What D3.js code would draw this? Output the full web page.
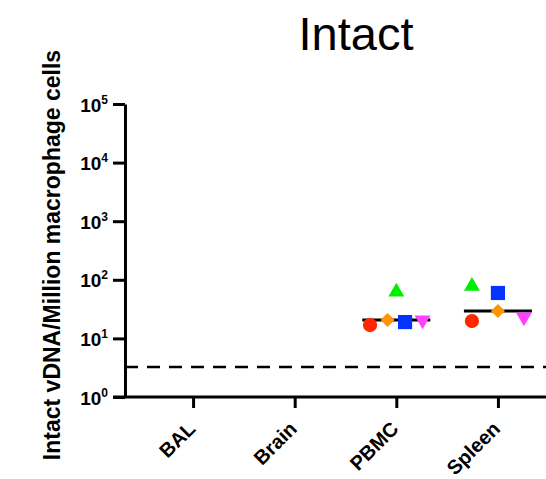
<!DOCTYPE html>
<html>
<head>
<meta charset="utf-8">
<script src="https://cdn.jsdelivr.net/npm/d3@7"></script>
<style>
  body { margin: 0; background: #fff; }
  svg { display: block; }
</style>
</head>
<body>
<div id="chart"></div>
<script>
"use strict";

const categories = ["BAL", "Brain", "PBMC", "Spleen"];
const yTicks = [1, 10, 100, 1000, 10000, 100000];
const detectionLimit = 3.25;

// one entry per animal; shapes and colours follow the reference
const animals = ["circle", "diamond", "square", "triDown", "triUp"];
const animalColor = ["#ff2600", "#ff9300", "#0433ff", "#ff40ff", "#00ee00"];

// values per tissue (BAL and Brain have no detectable points)
const pbmcValues   = [16.9, 20.6, 19.0, 20.6, 62];
const spleenValues = [19.8, 29.4, 59.6, 23.2, 78];
// horizontal slot of each point inside its column (scatter spread)
const pbmcSlots    = [-1.5, -0.5, 0.5, 1.5, 0];
const spleenSlots  = [-1, 0, 0, 1, -1];

const font = "Arial, 'Liberation Sans', sans-serif";

const width = 546, height = 479;
const margin = {top: 104, left: 125, bottom: 397};

const svg = d3.select("#chart").append("svg")
    .attr("width", width)
    .attr("height", height);

const x = d3.scalePoint()
    .domain(categories)
    .range([margin.left, margin.left + 441])
    .padding(0.67);

const y = d3.scaleLog()
    .domain([1, 1e5])
    .range([margin.bottom, margin.top]);

// title
svg.append("text")
    .attr("x", 356)
    .attr("y", 50)
    .attr("text-anchor", "middle")
    .style("font-family", font)
    .style("font-size", "47px")
    .text("Intact");

// y label
svg.append("text")
    .attr("transform", `translate(60,255) rotate(-90)`)
    .attr("text-anchor", "middle")
    .style("font-family", font)
    .style("font-weight", "bold")
    .style("font-size", "23px")
    .text("Intact vDNA/Million macrophage cells");

// y axis
const yAxis = svg.append("g")
    .attr("transform", `translate(${margin.left},0)`)
    .call(d3.axisLeft(y).tickValues(yTicks).tickSize(12).tickSizeOuter(0).tickFormat(""));
yAxis.select(".domain").attr("stroke-width", 3);
yAxis.selectAll(".tick line").attr("stroke-width", 3);
yAxis.selectAll(".tick").append("text")
    .attr("x", -17)
    .attr("y", 7)
    .attr("text-anchor", "end")
    .attr("fill", "#000")
    .style("font-family", font)
    .style("font-weight", "bold")
    .style("font-size", "19px")
    .text("10")
    .append("tspan")
    .attr("dy", -8)
    .style("font-size", "12px")
    .text(d => Math.round(Math.log10(d)));

// x axis
const xAxis = svg.append("g")
    .attr("transform", `translate(0,${margin.bottom})`)
    .call(d3.axisBottom(x).tickSize(11).tickSizeOuter(0));
xAxis.select(".domain").attr("stroke-width", 3)
    .attr("d", `M${margin.left - 12},0H${width + 20}`);
xAxis.selectAll(".tick line").attr("stroke-width", 3);
xAxis.selectAll(".tick text")
    .attr("y", 0)
    .attr("dy", 0)
    .attr("text-anchor", "end")
    .attr("transform", "translate(3,33) rotate(-45)")
    .style("font-family", font)
    .style("font-weight", "bold")
    .style("font-size", "20px");

// limit of detection
svg.append("line")
    .attr("x1", margin.left)
    .attr("x2", width)
    .attr("y1", y(detectionLimit))
    .attr("y2", y(detectionLimit))
    .attr("stroke", "#000")
    .attr("stroke-width", 2.5)
    .attr("stroke-dasharray", "13,9");

const groups = [
    {cat: "PBMC", values: pbmcValues, slots: pbmcSlots, slotW: 17.5},
    {cat: "Spleen", values: spleenValues, slots: spleenSlots, slotW: 26}
];

// median lines
groups.forEach(g => {
    const m = d3.median(g.values);
    svg.append("line")
        .attr("x1", x(g.cat) - 34)
        .attr("x2", x(g.cat) + 34)
        .attr("y1", y(m))
        .attr("y2", y(m))
        .attr("stroke", "#000")
        .attr("stroke-width", 3);
});

const shapes = {
    circle: {type: d3.symbolCircle, size: 160, rot: 0},
    diamond: {type: d3.symbolSquare, size: 100, rot: 45},
    square: {type: d3.symbolSquare, size: 200, rot: 0},
    triDown: {type: d3.symbolTriangle, size: 110, rot: 180},
    triUp: {type: d3.symbolTriangle, size: 110, rot: 0}
};

groups.forEach(g => {
    svg.append("g").selectAll("path")
        .data(g.values)
        .join("path")
        .attr("d", (d, i) => d3.symbol(shapes[animals[i]].type, shapes[animals[i]].size)())
        .attr("transform", (d, i) =>
            `translate(${x(g.cat) + g.slots[i] * g.slotW},${y(d)}) rotate(${shapes[animals[i]].rot})`)
        .attr("fill", (d, i) => animalColor[i]);
});
</script>
</body>
</html>
